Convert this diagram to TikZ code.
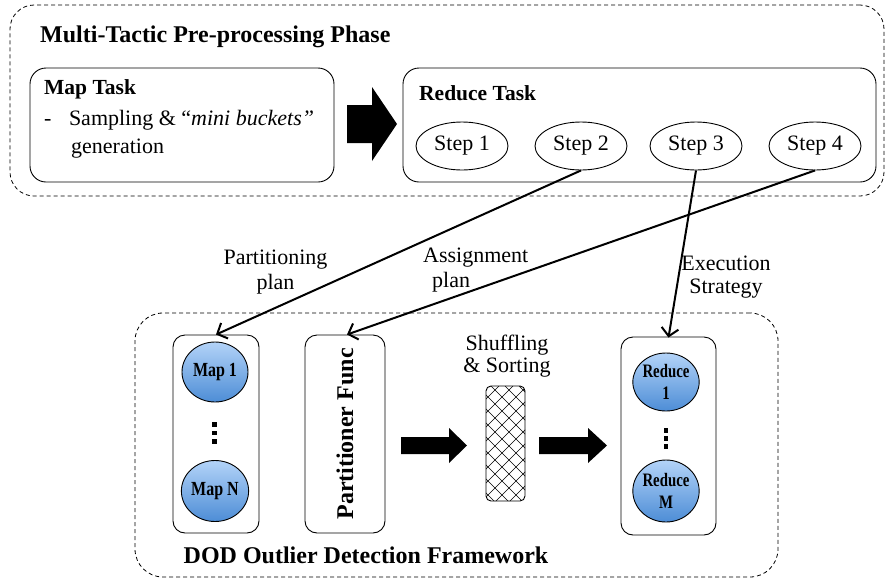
\documentclass[tikz,border=0pt]{standalone}
\usepackage{fontspec}
\setmainfont{Liberation Serif}
\usetikzlibrary{arrows.meta,shapes.geometric}

\definecolor{ballTop}{HTML}{B3D3F8}
\definecolor{ballBot}{HTML}{4D8DD6}

\newcommand{\fsz}[1]{\fontsize{#1}{#1}\selectfont}

\tikzset{
  frame/.style={draw, dash pattern=on 4pt off 3pt, line width=0.8pt, rounded corners=24},
  taskbox/.style={draw, line width=0.9pt, rounded corners=16},
  colbox/.style={draw, line width=0.9pt, rounded corners=12},
  stepnode/.style={draw, ellipse, line width=0.9pt, minimum width=92, minimum height=48,
                   inner sep=0, font=\fsz{22}},
  worker/.style={draw, ellipse, line width=0.9pt, top color=ballTop, bottom color=ballBot,
                 inner sep=0, align=center,
                 font=\fsz{20}\bfseries\addfontfeatures{FakeStretch=0.8}},
  plain/.style={inner sep=0, font=\fsz{22}},
  headline/.style={inner sep=0, font=\fsz{24}\bfseries},
  flow/.style={-{Straight Barb[length=8pt,width=17pt]}, line width=2pt},
  block/.style={fill=black},
}

\begin{document}
\begin{tikzpicture}[x=1pt, y=-1pt]
\useasboundingbox (0,0) rectangle (887,579);

% ---------- pre-processing phase ----------
\node[frame, minimum width=874, minimum height=191, inner sep=0] (pre) at (447,100.5) {};
\node[headline, anchor=west] (pretitle) at (40,37) {Multi-Tactic Pre-processing Phase};

\node[taskbox, minimum width=304, minimum height=114, inner sep=0] (maptask) at (182,125) {};
\node[inner sep=0, font=\fsz{21.5}\bfseries, anchor=west] (maptitle) at (44,89) {Map Task};
\node[plain, anchor=north west, align=left, font=\fsz{22}\linespread{1.27}\selectfont]
  (mapdesc) at (44,110) {-\hspace{17.5pt}Sampling \& “\textit{mini buckets”}\\\hspace*{27pt}generation};

\node[taskbox, minimum width=473, minimum height=114, inner sep=0] (redtask) at (639.5,125) {};
\node[inner sep=0, font=\fsz{21.5}\bfseries, anchor=west] (redtitle) at (419,93) {Reduce Task};

\node[stepnode] (s1) at (462,146) {Step 1};
\node[stepnode] (s2) at (581,146) {Step 2};
\node[stepnode] (s3) at (696,146) {Step 3};
\node[stepnode] (s4) at (815,146) {Step 4};

% block arrow between the two tasks
\fill[block] (347,105) -- (372,105) -- (372,87) -- (397,124) -- (372,161)
             -- (372,143) -- (347,143) -- cycle;

% ---------- outlier detection framework ----------
\node[frame, minimum width=643, minimum height=264, inner sep=0, rounded corners=28] (dod) at (456.5,445) {};
\node[headline] (dodtitle) at (366,555) {DOD Outlier Detection Framework};

% mappers
\node[colbox, minimum width=86, minimum height=198, inner sep=0] (mapcol) at (216,434) {};
\node[worker, minimum width=66, minimum height=60] (m1) at (215,372) {Map 1};
\node[worker, minimum width=66, minimum height=61] (mn) at (215,491) {Map N};
\foreach \yy in {422,430.5,439}
  \fill (212,\yy) rectangle ++(4.5,4.5);

% partitioner
\node[colbox, minimum width=80, minimum height=198, inner sep=0] (part) at (345,434) {};
\node[headline, rotate=90] (parttext) at (345,434) {Partitioner Func};

\fill[block] (401,437) -- (449,437) -- (449,428) -- (467,445.5) -- (449,463)
             -- (449,454) -- (401,454) -- cycle;

% shuffling / sorting stage
\node[plain, align=center, font=\fsz{22}\linespread{1.0}\selectfont] (shuflabel) at (507,356)
  {Shuffling\\\& Sorting};
\begin{scope}
  \clip[rounded corners=5] (486,386) rectangle (525,501);
  \foreach \k in {-12,...,14} {
    \draw[line width=0.6pt] (477+\k*14,386) -- ++(140,140);
    \draw[line width=0.6pt] (485+\k*14,386) -- ++(-140,140);
  }
\end{scope}
\node[draw, line width=0.9pt, rounded corners=5, minimum width=39, minimum height=115, inner sep=0]
  (shuffle) at (505.5,443.5) {};

\fill[block] (539,437) -- (588,437) -- (588,428) -- (607,445.5) -- (588,463)
             -- (588,454) -- (539,454) -- cycle;

% reducers
\node[colbox, minimum width=95, minimum height=198, inner sep=0] (redcol) at (668.5,436) {};
\node[worker, minimum width=59, minimum height=58, font=\fsz{19}\bfseries\addfontfeatures{FakeStretch=0.78}\linespread{1.15}\selectfont]
  (r1) at (666,382) {Reduce\\1};
\node[worker, minimum width=60, minimum height=62, font=\fsz{19}\bfseries\addfontfeatures{FakeStretch=0.78}\linespread{1.15}\selectfont]
  (rm) at (666,491) {Reduce\\M};
\foreach \yy in {428,436,444}
  \fill (663.5,\yy) rectangle ++(4.5,4.5);

% ---------- plans passed from the reduce steps ----------
\draw[flow] (s2.south) -- (mapcol.north);
\draw[flow] (s4.south) -- ([xshift=2pt]part.north);
\draw[flow] (s3.south) -- ([yshift=-1pt]redcol.north);

\node[plain, align=center, font=\fsz{22}\linespread{1.13}\selectfont] (plab) at (275.5,272) {Partitioning\\plan};
\node[plain, align=left, anchor=west, font=\fsz{22}\linespread{1.17}\selectfont] (alab) at (423,270) {Assignment\\\hspace*{9pt}plan};
\node[plain, align=center, font=\fsz{22}\linespread{1.07}\selectfont] (elab) at (726,277) {Execution\\Strategy};

\end{tikzpicture}
\end{document}
